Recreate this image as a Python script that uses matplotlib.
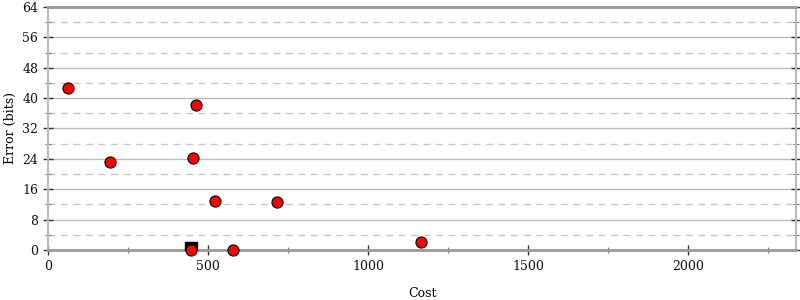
import matplotlib
matplotlib.use("Agg")
import matplotlib.pyplot as plt
from matplotlib.ticker import MultipleLocator

# Cost vs error (bits) of each candidate
cost = [62, 194, 453, 462, 522, 716, 1166, 578, 447]
error = [42.7, 23.2, 24.2, 38.2, 12.9, 12.6, 2.1, 0.0, 0.0]

# selected point
best_cost = [447]
best_error = [0.5]

plt.rcParams["font.family"] = "DejaVu Serif"
plt.rcParams["font.size"] = 9

fig = plt.figure(figsize=(8, 3), dpi=100)
ax = fig.add_axes([0.06, 0.1667, 0.935, 0.81])

ax.set_xlim(0, 2336)
ax.set_ylim(0, 64)
ax.xaxis.set_major_locator(MultipleLocator(500))
ax.xaxis.set_minor_locator(MultipleLocator(250))
ax.yaxis.set_major_locator(MultipleLocator(8))
ax.yaxis.set_minor_locator(MultipleLocator(4))

ax.grid(True, which="major", axis="y", color="#bbbbbb", linewidth=1, linestyle="-")
ax.grid(True, which="minor", axis="y", color="#c8c8c8", linewidth=1, linestyle=(0, (5, 4)))
ax.set_axisbelow(True)

for side in ["top", "bottom"]:
    ax.spines[side].set_color("#999999")
    ax.spines[side].set_linewidth(2)
for side in ["left", "right"]:
    ax.spines[side].set_color("#bbbbbb")
    ax.spines[side].set_linewidth(1.5)

ax.tick_params(which="both", direction="inout", right=True, top=False, colors="#333333", labelcolor="#111111")
ax.tick_params(which="major", length=7, width=1)
ax.tick_params(which="minor", length=5, width=0.8, color="#777777")

ax.scatter(best_cost, best_error, marker="s", s=75, color="black", zorder=3, clip_on=True)
ax.scatter(cost, error, s=64, color="red", edgecolors="black", linewidths=0.8, zorder=4, clip_on=False)

ax.set_xlabel("Cost", labelpad=10)
ax.set_ylabel("Error (bits)")

fig.savefig("out.png")
